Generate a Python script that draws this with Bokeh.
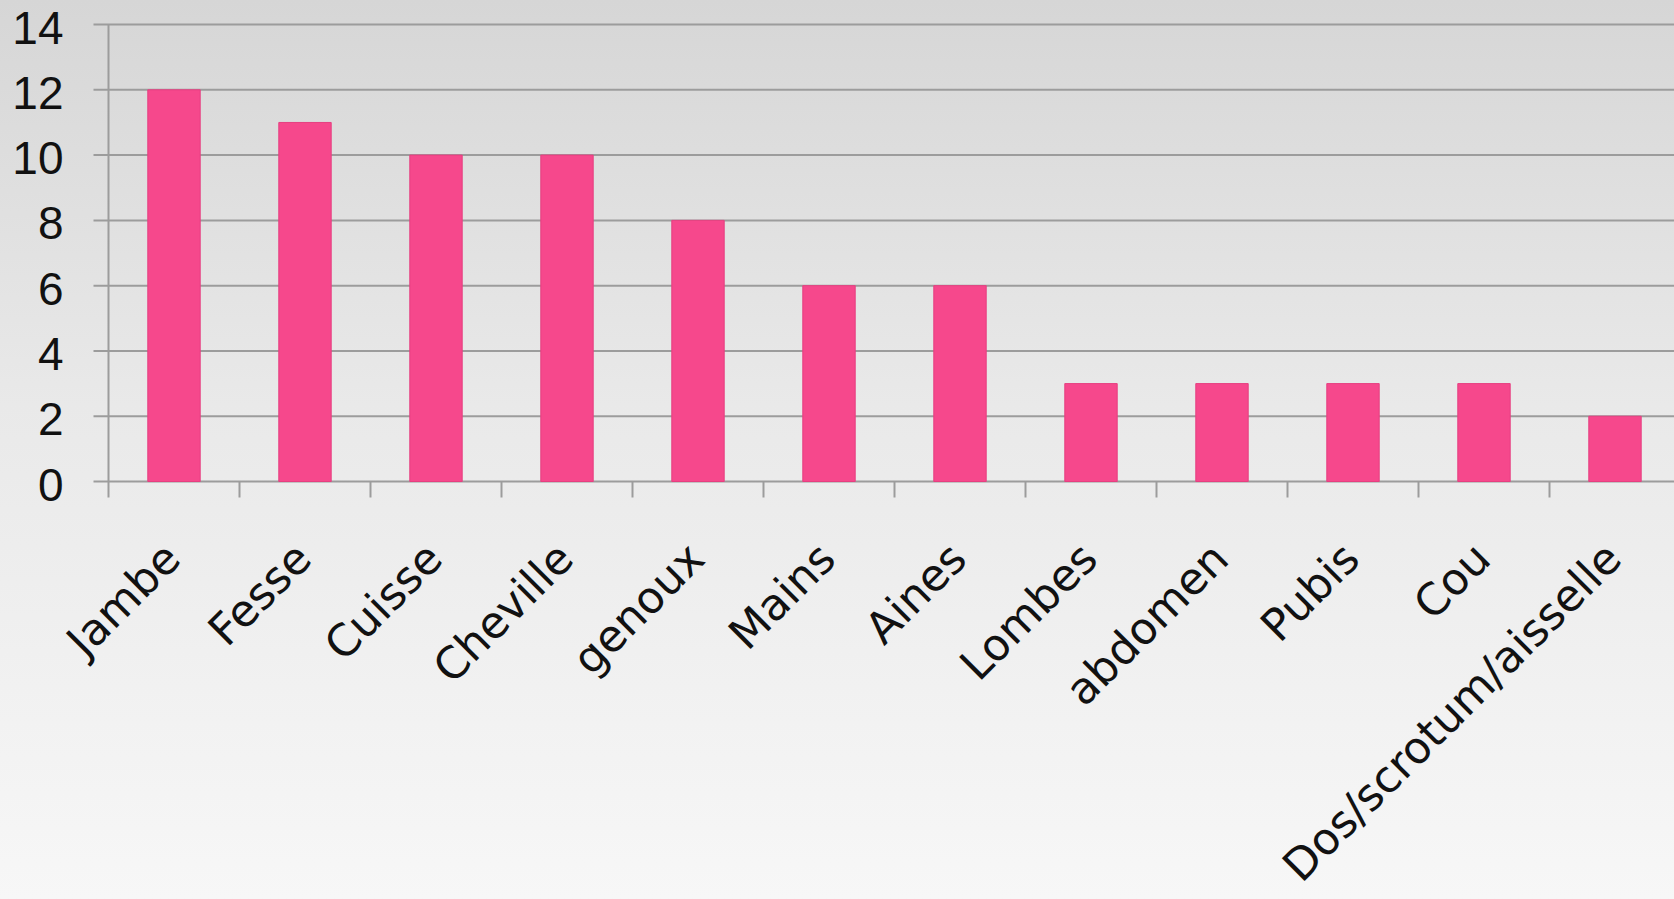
import math
from bokeh.plotting import figure
from bokeh.models import Range1d, LabelSet, ColumnDataSource
from bokeh.core.properties import value
from bokeh.embed import file_html
from bokeh.resources import INLINE

categories = ["Jambe", "Fesse", "Cuisse", "Cheville", "genoux", "Mains", "Aines",
              "Lombes", "abdomen", "Pubis", "Cou", "Dos/scrotum/aisselle"]
counts = [12, 11, 10, 10, 8, 6, 6, 3, 3, 3, 3, 2]
y_ticks = [0, 2, 4, 6, 8, 10, 12, 14]
y_tick_labels = ["0", "2", "4", "6", "8", "10", "12", "14"]

W, H = 1674, 899
AXIS_X_PX, ZERO_Y_PX = 108, 481      # where the axes cross, in canvas pixels
PX_PER_CAT, PX_PER_UNIT = 131.0, 32.64
GRAY = "#9c9c9c"

x0 = -0.5
x_start = x0 - AXIS_X_PX / PX_PER_CAT
x_end = x0 + (W - AXIS_X_PX) / PX_PER_CAT
y_end = ZERO_Y_PX / PX_PER_UNIT
y_start = -(H - ZERO_Y_PX) / PX_PER_UNIT
XTICK = 16 / PX_PER_UNIT
YTICK = 15 / PX_PER_CAT

xs = list(range(len(categories)))
bounds = [i - 0.5 for i in range(len(categories) + 1)]
n_y = len(y_ticks)

p = figure(width=W, height=H, output_backend="svg", toolbar_location=None,
           x_range=Range1d(x_start, x_end), y_range=Range1d(y_start, y_end),
           min_border=0)
p.axis.visible = False
p.grid.visible = False
p.background_fill_alpha = 0
p.border_fill_alpha = 0
p.outline_line_color = None
p.styles = {"background-image": "linear-gradient(to bottom, #d6d6d6 0%, #e9e9e9 45%, #f7f7f7 100%)"}

# horizontal grid lines (with their tick stubs left of the axis)
p.segment(x0=[x0 - YTICK] * n_y, y0=y_ticks, x1=[x_end] * n_y, y1=y_ticks,
          line_color=GRAY, line_width=2)
# category boundary ticks below the zero line
p.segment(x0=bounds, y0=[0] * len(bounds), x1=bounds, y1=[-XTICK] * len(bounds),
          line_color=GRAY, line_width=2)
# value axis line
p.segment(x0=[x0], y0=[0], x1=[x0], y1=[y_ticks[-1]], line_color=GRAY, line_width=2)

p.vbar(x=xs, top=counts, width=0.40, bottom=0,
       fill_color="#f6488c", line_color="#e63f80", line_width=1)

# value tick labels
ysrc = ColumnDataSource(dict(x=[x0] * n_y, y=y_ticks, text=y_tick_labels))
p.add_layout(LabelSet(x="x", y="y", text="text", source=ysrc, x_offset=-45, y_offset=-3,
                      text_align="right", text_baseline="middle",
                      text_font=value("Liberation Sans"), text_font_size="46px",
                      text_color="#111111"))

# category labels
xsrc = ColumnDataSource(dict(x=xs, y=[0] * len(categories), text=categories))
p.add_layout(LabelSet(x="x", y="y", text="text", source=xsrc, angle=math.pi / 4,
                      text_align="right", text_baseline="middle", x_offset=-2, y_offset=-69,
                      text_font=value("DejaVu Sans"), text_font_size="44px",
                      text_color="#111111"))

open("out.html", "w").write(file_html(p, INLINE))
